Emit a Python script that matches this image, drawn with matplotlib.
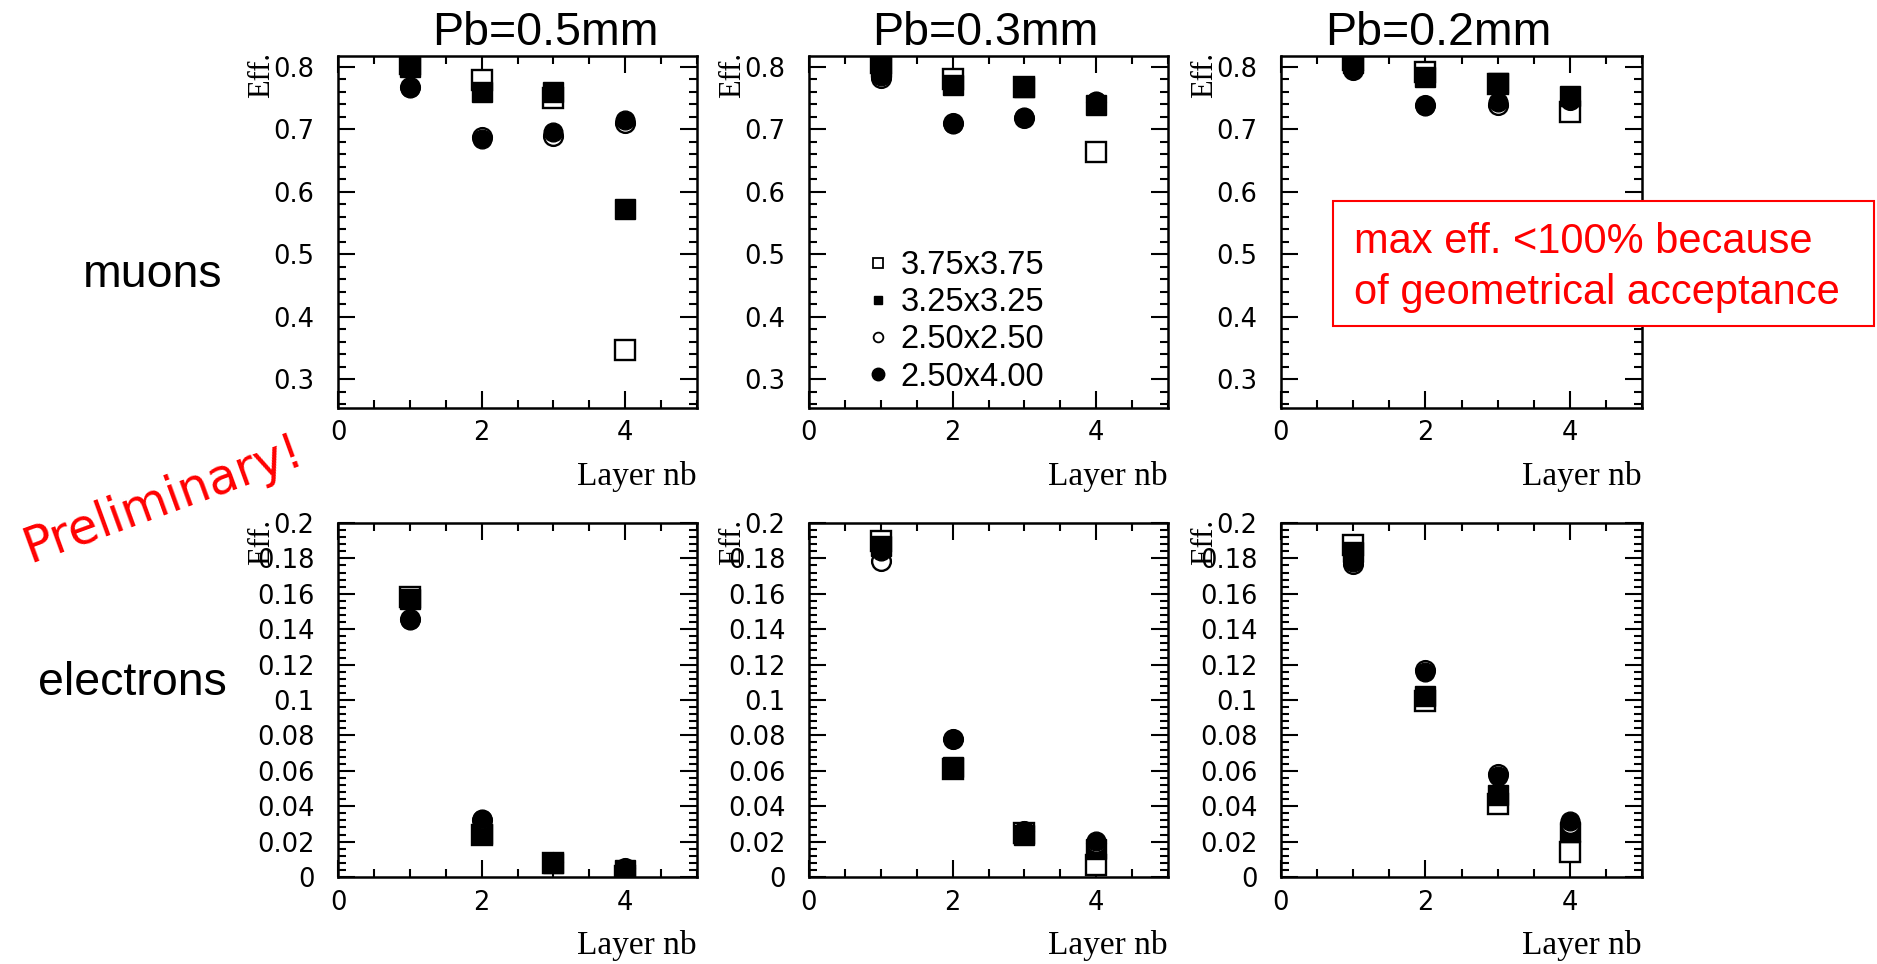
import matplotlib
matplotlib.use("Agg")
import matplotlib.pyplot as plt
from matplotlib.ticker import MultipleLocator, FuncFormatter
from matplotlib.lines import Line2D
from matplotlib.patches import Rectangle

W, H = 1877, 964

# data: efficiency per layer, one list per pad size
layers = [1, 2, 3, 4]
pads = ['3.75x3.75', '3.25x3.25', '2.50x2.50', '2.50x4.00']
titles = ['Pb=0.5mm', 'Pb=0.3mm', 'Pb=0.2mm']

mu_pb05 = [[0.805, 0.778, 0.750, 0.347],
           [0.800, 0.759, 0.759, 0.573],
           [0.768, 0.687, 0.689, 0.710],
           [0.766, 0.685, 0.696, 0.715]]
mu_pb03 = [[0.806, 0.781, 0.767, 0.664],
           [0.800, 0.770, 0.768, 0.739],
           [0.782, 0.710, 0.718, 0.744],
           [0.785, 0.709, 0.720, 0.745]]
mu_pb02 = [[0.810, 0.791, 0.772, 0.728],
           [0.806, 0.784, 0.774, 0.753],
           [0.795, 0.738, 0.739, 0.746],
           [0.797, 0.737, 0.743, 0.748]]

el_pb05 = [[0.158, 0.024, 0.0078, 0.0005],
           [0.157, 0.0243, 0.0080, 0.0040],
           [0.146, 0.032, 0.0085, 0.0050],
           [0.145, 0.033, 0.0083, 0.0048]]
el_pb03 = [[0.190, 0.0608, 0.025, 0.0066],
           [0.187, 0.0623, 0.024, 0.0156],
           [0.1785, 0.078, 0.026, 0.019],
           [0.184, 0.0778, 0.026, 0.0203]]
el_pb02 = [[0.1873, 0.0996, 0.0412, 0.0139],
           [0.1837, 0.1022, 0.0463, 0.0256],
           [0.1768, 0.117, 0.058, 0.030],
           [0.178, 0.116, 0.0572, 0.0316]]

muons = [mu_pb05, mu_pb03, mu_pb02]
electrons = [el_pb05, el_pb03, el_pb02]

# marker style per pad size (open sq, filled sq, open circle, filled circle)
styles = [dict(marker='s', mfc='white', mec='black', ms=14.5, mew=1.7),
          dict(marker='s', mfc='black', mec='black', ms=14.5, mew=1.0),
          dict(marker='o', mfc='white', mec='black', ms=13.5, mew=1.7),
          dict(marker='o', mfc='black', mec='black', ms=13.5, mew=1.0)]

fig = plt.figure(figsize=(W / 100, H / 100), dpi=100)
fig.patch.set_facecolor('white')

def px(x, y):
    return x / W, 1 - y / H

cols = [(338, 697), (809, 1168), (1281, 1642)]
rows = [(56, 408), (523, 877)]

fmt = FuncFormatter(lambda v, p: '%g' % round(v, 4))

def style_axes(ax, ylim, major, minor):
    ax.set_xlim(0, 5)
    ax.set_ylim(*ylim)
    ax.xaxis.set_major_locator(MultipleLocator(2))
    ax.xaxis.set_minor_locator(MultipleLocator(0.5))
    ax.yaxis.set_major_locator(MultipleLocator(major))
    ax.yaxis.set_minor_locator(MultipleLocator(minor))
    ax.yaxis.set_major_formatter(fmt)
    ax.tick_params(which='both', direction='in', top=True, right=True,
                   width=1.5, color='black')
    ax.tick_params(which='major', length=12.5)
    ax.tick_params(which='minor', length=6)
    ax.tick_params(axis='y', which='major', pad=17, labelsize=18.5)
    ax.tick_params(axis='x', which='major', pad=9, labelsize=18.5)
    for lab in ax.get_xticklabels() + ax.get_yticklabels():
        lab.set_family('DejaVu Sans')
    for s in ax.spines.values():
        s.set_linewidth(1.8)
    ax.annotate('Eff.', xy=(0, 1), xycoords='axes fraction',
                xytext=(-76 * 0.72, 3), textcoords='offset points',
                rotation=90, ha='center', va='top',
                family='Liberation Serif', fontsize=22)
    ax.annotate('Layer nb', xy=(1, 0), xycoords='axes fraction',
                xytext=(0, -77 * 0.72), textcoords='offset points',
                ha='right', va='baseline',
                family='Liberation Serif', fontsize=24)

axes = {}
for r, (top, bot) in enumerate(rows):
    for c, (left, right) in enumerate(cols):
        ax = fig.add_axes([left / W, 1 - bot / H, (right - left) / W, (bot - top) / H])
        data = muons[c] if r == 0 else electrons[c]
        for vals, st in zip(data, styles):
            ax.plot(layers, vals, linestyle='none', clip_on=True, **st)
        if r == 0:
            style_axes(ax, (0.254, 0.817), 0.1, 0.02)
        else:
            style_axes(ax, (0.0, 0.2), 0.02, 0.004)
        axes[(r, c)] = ax

# legend in the middle muon panel
handles = [Line2D([], [], linestyle='none', marker='s', mfc='white', mec='black', ms=7.5, mew=1.3),
           Line2D([], [], linestyle='none', marker='s', mfc='black', mec='black', ms=6),
           Line2D([], [], linestyle='none', marker='o', mfc='white', mec='black', ms=7, mew=1.3),
           Line2D([], [], linestyle='none', marker='o', mfc='black', mec='black', ms=9)]
leg = axes[(0, 1)].legend(handles, pads, loc='upper left',
                          bbox_to_anchor=px(866, 250), bbox_transform=fig.transFigure,
                          frameon=False, handlelength=0.75,
                          handletextpad=0.3, labelspacing=0.19, borderpad=0,
                          borderaxespad=0, prop={'family': 'Liberation Sans', 'size': 23.5})

# titles and row labels
for t, x in zip(titles, [432, 872, 1325]):
    fig.text(*px(x, 45), t, ha='left', va='baseline', fontsize=33.5,
             family='Liberation Sans')
fig.text(*px(83, 287), 'muons', ha='left', va='baseline', fontsize=33.5,
         family='Liberation Sans')
fig.text(*px(38, 695), 'electrons', ha='left', va='baseline', fontsize=33.5,
         family='Liberation Sans')

fig.text(*px(30, 563), 'Preliminary!', rotation=20, rotation_mode='anchor',
         ha='left', va='baseline', color='#ff0000', fontsize=35,
         family='DejaVu Sans')

# red note box
bx0, by0 = px(1333, 326)
bx1, by1 = px(1874, 201)
fig.patches.append(Rectangle((bx0, by0), bx1 - bx0, by1 - by0, transform=fig.transFigure,
                             facecolor='white', edgecolor='#ff0000', linewidth=1.5,
                             zorder=5))
fig.text(*px(1354, 253), 'max eff. <100% because', ha='left', va='baseline',
         color='#ff0000', fontsize=30, family='Liberation Sans', zorder=6)
fig.text(*px(1354, 304), 'of geometrical acceptance', ha='left', va='baseline',
         color='#ff0000', fontsize=30, family='Liberation Sans', zorder=6)

fig.savefig('out.png', dpi=100, facecolor='white')
